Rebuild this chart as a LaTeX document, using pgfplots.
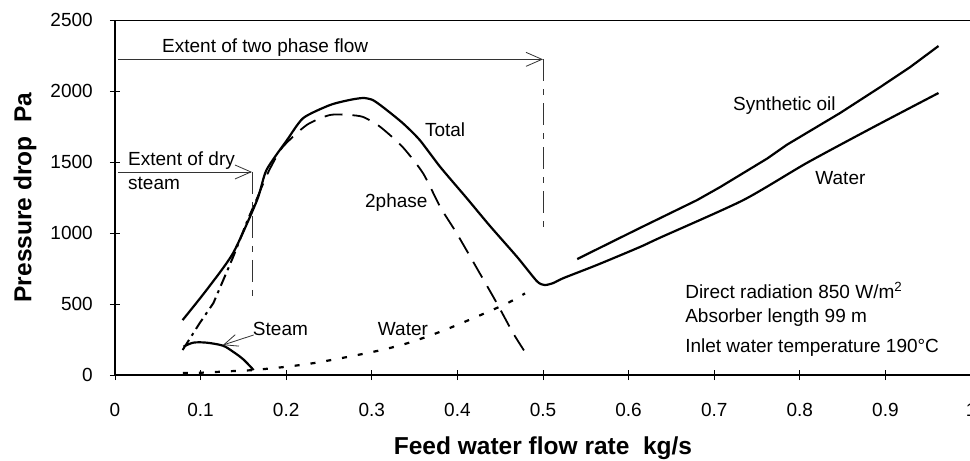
\documentclass[border=0pt]{standalone}
\usepackage{pgfplots}
\pgfplotsset{compat=1.18}
\usepackage{fontspec}
\setmainfont{Liberation Sans}
\usetikzlibrary{arrows.meta}
\newcommand\tf{\fontsize{19}{22}\selectfont}
\begin{document}
\begin{tikzpicture}
\begin{axis}[
  scale only axis, width=856pt, height=355pt,
  xmin=0, xmax=1, ymin=0, ymax=2500,
  axis x line=bottom, axis y line=left,
  axis line style={-},
  x axis line style={line width=2pt},
  y axis line style={line width=1.5pt},
  xtick={0,0.1,0.2,0.3,0.4,0.5,0.6,0.7,0.8,0.9,1},
  xticklabels={{\tf 0},{\tf 0.1},{\tf 0.2},{\tf 0.3},{\tf 0.4},{\tf 0.5},{\tf 0.6},{\tf 0.7},{\tf 0.8},{\tf 0.9},{\tf 1}},
  ytick={0,500,1000,1500,2000,2500},
  yticklabels={{\tf 0},{\tf 500},{\tf 1000},{\tf 1500},{\tf 2000},{\tf 2500}},
  tick align=center, major tick length=10pt,
  tick style={black, line width=0.9pt},
  every tick label/.append style={font=\tf},
  xticklabel style={anchor=base, inner sep=0pt, yshift=-36pt},
  yticklabel style={anchor=east, inner sep=0pt, xshift=-17pt},
  xlabel={Feed water flow rate\ \ kg/s},
  ylabel={Pressure drop\ \ Pa},
  every axis x label/.style={at={(axis description cs:0.5,-0.225)}, anchor=base, font=\fontsize{24.5}{28}\selectfont\bfseries},
  every axis y label/.style={at={(axis description cs:-0.105,0.5)}, rotate=90, anchor=center, font=\fontsize{24.5}{28}\selectfont\bfseries},
  clip=false,
]
% top border line
\draw[line width=0.9pt] (rel axis cs:0,1) -- (rel axis cs:1,1);

% Total
\addplot[black, line width=2.2pt, smooth, tension=0.4] coordinates {
(0.079,387) (0.107,599) (0.138,859) (0.166,1232) (0.177,1444) (0.201,1655)
(0.220,1810) (0.251,1901) (0.274,1937) (0.290,1951) (0.301,1937) (0.313,1887)
(0.336,1775) (0.356,1655) (0.380,1465) (0.411,1245) (0.438,1050) (0.470,830)
(0.493,660) (0.502,634) (0.512,648) (0.524,683) (0.563,775) (0.613,901)
(0.637,968) (0.734,1232) (0.808,1493) (0.886,1746) (0.962,1986)};

% Synthetic oil
\addplot[black, line width=2.2pt] coordinates {
(0.540,817) (0.613,1035) (0.680,1232) (0.707,1324) (0.762,1525) (0.785,1622)
(0.847,1845) (0.894,2028) (0.929,2169) (0.962,2317)};

% 2phase (dash-dot start)
\addplot[black, line width=2pt, dash pattern=on 12pt off 5pt on 3pt off 5pt] coordinates {
(0.079,176) (0.099,366) (0.115,507) (0.138,831) (0.155,1092) (0.165,1232)};
% 2phase dashed
\addplot[black, line width=1.8pt, dash pattern=on 18pt off 10pt, smooth, tension=0.4] coordinates {
(0.165,1232) (0.180,1440) (0.196,1606) (0.224,1761) (0.251,1831) (0.274,1831)
(0.290,1817) (0.310,1747) (0.336,1606) (0.360,1420) (0.380,1183) (0.399,1000)
(0.426,718) (0.446,507) (0.465,296) (0.479,162)};

% Steam
\addplot[black, line width=2.2pt, smooth] coordinates {
(0.080,200) (0.0915,228) (0.107,228) (0.126,207) (0.138,164) (0.150,110) (0.162,35)};

% Water (dotted)
\addplot[black, line width=2.2pt, dash pattern=on 5pt off 11pt, smooth] coordinates {
(0.0794,14) (0.099,16) (0.138,28) (0.161,35) (0.201,59) (0.239,91) (0.302,164)
(0.341,223) (0.380,305) (0.418,399) (0.458,505) (0.479,575)};

% extent arrows and markers
\addplot[black!80, line width=0.8pt, -{Straight Barb[length=16pt,width=14pt]}] coordinates {(0.0035,2223) (0.5,2223)};
\addplot[black!80, line width=0.8pt, dash pattern=on 22pt off 8pt on 6pt off 8pt] coordinates {(0.5,2223) (0.5,1042)};
\addplot[black!80, line width=0.8pt, -{Straight Barb[length=16pt,width=14pt]}] coordinates {(0.0035,1430) (0.16,1430)};
\addplot[black!80, line width=0.8pt, dash pattern=on 22pt off 8pt on 6pt off 8pt] coordinates {(0.161,1430) (0.161,528)};
\addplot[black!80, line width=0.8pt, -{Straight Barb[length=14pt,width=12pt]}] coordinates {(0.162,282) (0.126,211)};

% labels
\node[anchor=base west, inner sep=0pt, font=\tf] at (axis cs:0.0549,2273) {Extent of two phase flow};
\node[anchor=base west, inner sep=0pt, font=\tf] at (axis cs:0.0152,1479) {Extent of dry};
\node[anchor=base west, inner sep=0pt, font=\tf] at (axis cs:0.0152,1307) {steam};
\node[anchor=base west, inner sep=0pt, font=\tf] at (axis cs:0.362,1683) {Total};
\node[anchor=base west, inner sep=0pt, font=\tf] at (axis cs:0.292,1183) {2phase};
\node[anchor=base west, inner sep=0pt, font=\tf] at (axis cs:0.161,282) {Steam};
\node[anchor=base west, inner sep=0pt, font=\tf] at (axis cs:0.307,282) {Water};
\node[anchor=base west, inner sep=0pt, font=\tf] at (axis cs:0.722,1862) {Synthetic oil};
\node[anchor=base west, inner sep=0pt, font=\tf] at (axis cs:0.818,1345) {Water};
\node[anchor=base west, inner sep=0pt, font=\tf] at (axis cs:0.666,542) {Direct radiation 850 W/m\textsuperscript{2}};
\node[anchor=base west, inner sep=0pt, font=\tf] at (axis cs:0.666,373) {Absorber length 99 m};
\node[anchor=base west, inner sep=0pt, font=\tf] at (axis cs:0.666,162) {Inlet water temperature 190°C};

\coordinate (bbl) at (axis cs:-0.1343,-599);
\coordinate (btr) at (axis cs:0.9988,2641);
\end{axis}
\pgfresetboundingbox
\path[use as bounding box] (bbl) rectangle (btr);
\end{tikzpicture}
\end{document}
